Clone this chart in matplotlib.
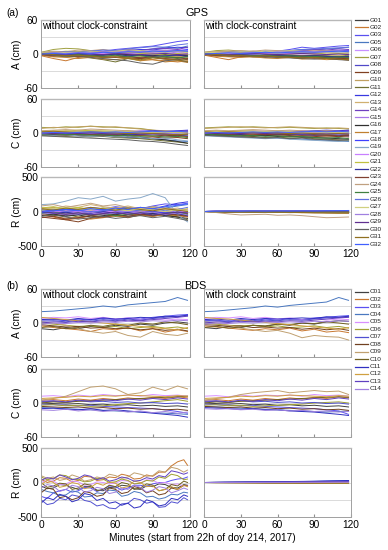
import matplotlib
matplotlib.use("Agg")
import matplotlib.pyplot as plt
from matplotlib.lines import Line2D

plt.rcParams['font.family'] = ['Liberation Sans', 'DejaVu Sans']

minutes = [0, 10, 20, 30, 40, 50, 60, 70, 80, 90, 100, 110, 118]
minutes_fine = [0, 5, 10, 15, 20, 25, 30, 35, 40, 45, 50, 55, 60, 65, 70, 75, 80, 85, 90, 95, 100, 105, 110, 115, 118]

gps_sats = ['G01','G02','G03','G05','G06','G07','G08','G09','G10','G11','G12','G13','G14','G15','G16',
            'G17','G18','G19','G20','G21','G22','G23','G24','G25','G26','G27','G28','G29','G30','G31','G32']
gps_colors = ['#404040','#c87830','#5a50f0','#4a78c0','#c890ff','#a0a040','#5048c8','#804020','#c0a060',
              '#707030','#3838e0','#d0b070','#7040c0','#a878e8','#303030','#c08030','#4040ff','#88a8c8',
              '#c880ff','#c0c040','#3030a0','#804030','#c0a080','#408040','#6070e0','#d0d080','#a080e0',
              '#603090','#606060','#907020','#4060ff']

bds_sats = ['C01','C02','C03','C04','C05','C06','C07','C08','C09','C10','C11','C12','C13','C14']
bds_colors = ['#404040','#c87830','#5a50f0','#4a78c0','#d890ff','#a0a030','#5050d0','#704020','#c0a070',
              '#706020','#3030c0','#d0a040','#6040c0','#a080e0']

gps_A_without = [
[0,1,-2,0,2,-1,0,-3,-2,-4,-5,-6,-4],[-3,-8,-12,-6,-4,-5,-2,-6,-8,-10,-12,-14,-12],[2,3,1,4,6,5,8,10,12,14,18,22,24],
[1,0,2,-1,0,3,2,5,7,9,12,10,14],[0,2,3,1,2,4,3,2,5,4,6,8,7],[3,8,10,9,6,4,-2,-8,-12,-6,-3,-5,-2],
[0,-1,1,0,2,1,3,4,2,5,3,6,4],[-2,-4,-3,-5,-4,-6,-5,-7,-8,-6,-9,-10,-8],[1,2,0,-2,-4,-3,-6,-8,-5,-3,-2,-4,-6],
[0,-3,-5,-4,-7,-10,-14,-8,-6,-4,-6,-8,-10],[0,1,2,1,3,2,4,6,8,7,10,12,11],[2,4,3,5,2,0,1,-2,-4,-6,-3,-2,0],
[0,2,1,3,5,4,6,8,6,9,10,8,12],[1,0,-1,1,2,0,-1,2,3,1,4,2,3],[-1,-2,0,-1,-3,-2,0,-1,-2,-3,-1,-2,-3],
[-2,-5,-6,-8,-6,-9,-10,-7,-12,-10,-14,-12,-15],[1,2,3,2,1,3,4,2,5,3,6,5,8],[0,-2,-1,-3,-2,0,2,1,3,5,4,6,4],
[0,1,0,-1,0,1,2,1,0,2,1,0,1],[2,3,5,4,6,3,2,4,1,0,-2,1,-1],[0,-1,-2,-1,0,-2,-1,-3,-2,-4,-3,-2,-4],
[-1,-3,-2,-4,-3,-5,-6,-4,-7,-5,-8,-6,-9],[3,5,4,7,6,8,5,3,2,4,6,5,3],[-1,0,-2,-1,-3,-4,-2,-5,-3,-6,-4,-7,-5],
[1,2,4,3,5,7,6,9,11,13,12,16,18],[2,1,3,2,4,3,5,7,6,4,3,5,2],[0,2,1,3,2,4,3,5,4,6,7,5,6],
[-1,0,-1,1,0,-1,1,0,-1,0,1,-1,0],[0,-2,-4,-3,-6,-8,-10,-12,-16,-18,-12,-10,-14],[1,-1,-3,-2,-4,-6,-5,-8,-10,-7,-9,-11,-13],
[0,1,0,2,1,3,2,4,3,5,4,6,5]]

gps_A_with = [
[0,-1,-2,-1,-3,-2,-4,-3,-5,-4,-6,-5,-7],[-2,-6,-10,-5,-3,-4,-2,-5,-6,-7,-8,-9,-8],[1,2,1,3,2,4,5,8,12,10,12,14,15],
[0,1,0,2,1,3,4,6,8,7,9,10,12],[2,3,4,3,5,4,6,5,4,6,5,7,6],[3,6,7,5,4,2,0,-2,-4,-2,-3,-4,-2],
[0,-1,0,1,0,2,1,3,2,4,3,5,4],[-2,-3,-4,-3,-5,-4,-6,-5,-7,-6,-8,-7,-9],[1,0,2,1,0,-1,-2,-1,-3,-2,-4,-3,-5],
[0,-2,-4,-3,-5,-6,-4,-5,-3,-4,-6,-5,-7],[0,1,2,1,3,2,4,3,5,4,6,5,7],[3,4,5,4,3,5,4,6,5,7,6,5,4],
[0,1,2,3,2,4,3,5,6,8,7,9,8],[1,0,1,2,1,0,1,2,3,2,3,4,3],[-1,-2,-1,-3,-2,-1,-2,-3,-4,-3,-4,-5,-4],
[-2,-4,-5,-6,-5,-7,-8,-6,-9,-8,-10,-9,-11],[1,2,3,2,3,4,3,4,5,4,6,5,6],[0,-1,-2,-1,-2,0,1,0,2,1,3,2,1],
[0,1,0,1,0,1,2,1,0,1,2,1,0],[2,3,4,3,5,3,2,3,1,2,0,1,0],[0,-1,-2,-1,-2,-3,-2,-3,-4,-3,-4,-5,-4],
[-1,-2,-3,-4,-3,-5,-4,-6,-5,-7,-6,-8,-7],[3,4,5,6,5,7,6,5,4,5,6,5,4],[-1,0,-1,-2,-3,-2,-4,-3,-5,-4,-6,-5,-6],
[1,2,3,4,3,5,4,6,8,9,10,11,12],[2,3,2,4,3,5,4,6,5,4,3,4,3],[0,1,2,1,3,2,4,3,5,4,5,6,5],
[-1,0,-1,0,1,0,-1,0,1,0,-1,0,-1],[0,-1,-3,-2,-4,-5,-6,-7,-8,-9,-8,-10,-11],[1,-1,-2,-3,-4,-3,-5,-6,-7,-6,-8,-9,-10],
[0,1,2,1,2,3,2,3,4,3,4,5,4]]

gps_C_without = [
[0,-1,-2,-1,-2,-3,-2,-3,-4,-3,-4,-5,-4],[-1,-2,-1,-3,-2,-4,-3,-5,-4,-6,-5,-7,-6],[1,2,1,3,2,1,2,3,2,4,3,2,3],
[-2,-3,-4,-5,-6,-5,-7,-8,-9,-10,-12,-14,-15],[2,1,3,2,4,3,2,3,4,3,2,3,4],[10,9,11,10,12,11,10,9,8,5,3,1,0],
[0,1,0,-1,0,1,0,-1,0,1,0,-1,0],[-3,-4,-5,-4,-6,-5,-7,-6,-8,-7,-9,-8,-10],[8,10,9,11,12,10,11,9,7,5,4,3,2],
[-4,-5,-6,-5,-7,-6,-8,-9,-10,-12,-14,-16,-18],[1,0,1,2,1,2,3,2,3,4,3,4,5],[2,3,4,3,5,4,3,4,2,3,1,2,1],
[0,-1,0,1,2,1,0,1,2,3,2,3,4],[1,2,1,0,1,2,1,0,1,2,1,0,1],[-2,-3,-2,-4,-3,-5,-4,-6,-8,-10,-12,-15,-18],
[2,1,3,2,1,0,2,1,0,-1,0,1,2],[0,1,2,1,0,-1,0,1,0,-1,-2,-1,-2],[-3,-4,-3,-5,-6,-5,-7,-6,-8,-10,-9,-12,-14],
[1,0,-1,0,1,0,-1,0,1,0,-1,0,1],[3,4,3,5,4,3,2,3,2,1,2,1,0],[-1,0,-1,-2,-1,-2,-1,-2,-3,-2,-3,-4,-3],
[0,-1,-2,-3,-2,-4,-3,-5,-4,-3,-5,-4,-6],[4,5,6,5,7,6,5,4,3,2,3,2,1],[-2,-1,-3,-2,-4,-3,-5,-4,-6,-5,-7,-6,-8],
[0,1,0,2,1,0,-1,0,-1,-2,-3,-2,-4],[1,2,3,2,3,4,3,2,1,2,1,0,-1],[-1,0,1,0,-1,0,1,0,-1,-2,-1,-2,-3],
[0,-1,0,-1,0,-1,-2,-1,-2,-1,-2,-3,-2],[-5,-6,-7,-8,-9,-10,-11,-12,-14,-15,-17,-20,-22],[2,3,2,1,2,1,0,-1,0,-1,-2,-3,-2],
[0,1,0,1,2,1,2,1,2,3,2,3,2]]

gps_C_with = [
[0,-1,-2,-1,-2,-3,-2,-3,-2,-3,-4,-3,-4],[-1,-2,-1,-2,-3,-2,-3,-4,-3,-4,-5,-4,-5],[1,2,1,2,3,2,1,2,3,2,3,4,3],
[-3,-4,-5,-6,-7,-8,-9,-10,-11,-12,-13,-14,-15],[2,3,2,3,4,3,2,3,4,3,2,3,4],[9,10,11,10,11,10,9,10,9,8,9,8,7],
[0,1,0,1,0,1,0,-1,0,1,0,-1,0],[-3,-4,-3,-4,-5,-4,-5,-6,-5,-6,-7,-6,-7],[8,9,10,11,10,9,10,11,10,9,8,9,8],
[-4,-5,-6,-7,-6,-8,-7,-9,-8,-10,-11,-12,-13],[1,0,1,2,1,2,3,2,3,4,5,4,5],[2,3,2,3,4,3,4,3,2,3,2,1,2],
[0,1,0,1,2,1,2,3,2,3,4,3,4],[1,0,1,2,1,0,1,2,1,0,1,2,1],[-2,-3,-4,-3,-5,-4,-6,-5,-7,-8,-9,-10,-11],
[2,1,2,3,2,1,2,1,0,1,2,1,2],[0,1,0,-1,0,1,0,-1,0,-1,-2,-1,-2],[-5,-6,-7,-8,-9,-10,-9,-11,-12,-13,-14,-15,-14],
[1,0,1,0,1,0,1,0,1,0,1,0,1],[3,4,3,4,3,2,3,2,1,2,1,0,1],[-1,0,-1,-2,-1,-2,-3,-2,-3,-4,-3,-4,-5],
[0,-1,-2,-1,-2,-3,-2,-3,-4,-3,-4,-5,-4],[4,5,4,5,6,5,4,5,4,3,4,3,2],[-2,-3,-4,-5,-4,-6,-5,-7,-6,-8,-9,-8,-10],
[0,1,0,1,0,-1,0,-1,-2,-1,-2,-3,-2],[1,2,1,2,3,2,3,2,1,2,1,0,1],[-1,0,1,0,-1,0,1,0,-1,0,-1,-2,-1],
[0,-1,0,-1,0,-1,0,-1,-2,-1,-2,-1,-2],[-4,-5,-6,-7,-8,-9,-8,-10,-9,-11,-12,-13,-12],[2,1,2,1,0,1,0,-1,0,-1,-2,-1,-2],
[0,1,0,1,2,1,2,1,2,3,2,3,2]]

gps_R_without = [
[-20,-40,-60,-30,-50,-20,-40,-10,-30,0,-20,-50,-60],[-50,-80,-120,-100,-60,-80,-40,-20,-60,-30,-50,-80,-40],
[0,20,50,30,60,40,70,50,40,80,110,100,120],[0,30,10,40,20,50,30,60,40,70,50,80,100],
[10,-20,0,30,10,-10,20,0,30,10,40,20,30],[30,50,20,40,10,30,0,20,-10,10,-20,0,-30],
[-10,10,-20,0,-30,-10,-40,-20,-10,-30,0,-20,-40],[-80,-100,-120,-150,-100,-80,-60,-90,-50,-70,-40,-60,-30],
[40,60,30,50,20,40,60,30,50,20,40,10,-20],[-30,-60,-40,-80,-60,-40,-70,-50,-30,-60,-40,-80,-120],
[20,0,30,10,40,20,50,30,60,40,80,120,140],[60,40,80,60,100,70,50,80,40,60,30,50,20],
[0,20,-10,10,-20,0,20,-10,10,-20,0,20,-10],[-20,0,-30,-10,-40,-20,0,-30,-10,20,0,30,10],
[-60,-40,-70,-50,-80,-60,-40,-70,-50,-30,-60,-80,-100],[-40,-70,-100,-80,-110,-90,-60,-80,-50,-70,-40,-60,-80],
[30,10,40,20,0,30,10,-10,20,0,-20,10,-10],[100,110,150,200,180,220,150,180,200,260,200,-50,-150],
[0,-10,10,0,20,10,-10,0,10,20,0,10,-10],[50,70,40,60,30,50,20,40,10,30,0,20,40],
[-10,-30,-10,-40,-20,0,-30,-10,-40,-20,-50,-30,-60],[-90,-70,-110,-90,-60,-80,-50,-70,-40,-60,-30,-50,-70],
[80,100,60,90,120,80,100,60,40,70,50,30,10],[-30,-10,-40,-20,-50,-30,-60,-40,-20,-50,-30,-10,-40],
[10,30,0,20,-10,10,30,0,20,40,10,30,60],[20,40,60,40,20,50,30,10,40,20,0,30,10],
[-40,-20,-50,-30,-10,-40,-20,0,-30,-10,-40,-20,-50],[0,-20,-40,-20,-50,-30,-10,-40,-20,-50,-30,-10,-20],
[-70,-50,-80,-110,-90,-70,-100,-80,-60,-90,-70,-100,-130],[40,20,50,30,60,40,20,50,30,10,40,20,0],
[-10,10,30,10,40,20,50,30,60,40,70,90,110]]

gps_R_with = [
[0,2,-3,1,-2,3,0,-4,2,-1,3,-2,1],[0,-5,-10,-8,-12,-10,-15,-12,-18,-15,-20,-22,-18],[0,3,5,2,6,4,8,5,9,7,10,8,12],
[0,-2,1,-3,0,-4,-1,-5,-2,-6,-3,-7,-5],[0,4,2,6,3,7,5,9,6,10,8,12,10],[0,-3,-6,-4,-8,-5,-9,-7,-11,-8,-12,-10,-13],
[0,2,4,3,5,4,6,5,7,6,8,7,9],[0,-4,-8,-12,-10,-14,-12,-16,-14,-18,-16,-20,-22],[0,1,-1,2,0,3,1,-2,2,-1,3,0,2],
[0,-3,-5,-3,-6,-4,-7,-5,-8,-6,-9,-7,-10],[0,3,6,4,7,5,8,6,10,8,11,9,12],[0,-2,-4,-6,-8,-10,-12,-14,-16,-18,-20,-22,-24],
[0,2,0,3,1,4,2,5,3,6,4,7,5],[0,-1,1,-2,0,-3,-1,-4,-2,-5,-3,-6,-4],[0,-2,-1,-3,-2,-4,-3,-5,-4,-6,-5,-7,-6],
[0,-4,-7,-10,-8,-12,-10,-14,-12,-16,-14,-18,-16],[0,2,4,3,6,5,7,6,9,8,10,9,11],[0,-3,-2,-5,-4,-7,-6,-9,-8,-11,-10,-13,-12],
[0,3,1,4,2,5,3,6,4,7,5,8,6],[0,1,3,1,4,2,5,3,6,4,7,5,8],[0,2,1,3,2,4,3,5,4,6,5,7,6],
[0,-5,-8,-6,-10,-8,-12,-10,-14,-12,-16,-14,-18],[0,-15,-35,-50,-45,-40,-55,-50,-60,-75,-90,-85,-80],[0,-2,-4,-3,-5,-4,-6,-5,-7,-6,-8,-7,-9],
[0,4,6,5,8,6,9,7,10,8,12,10,13],[0,-1,-3,-2,-4,-3,-5,-4,-6,-5,-7,-6,-8],[0,2,5,3,6,4,8,6,10,8,12,14,12],
[0,1,2,1,3,2,4,3,5,4,6,5,7],[0,-1,-2,-1,-3,-2,-4,-3,-5,-4,-6,-5,-7],[0,-3,-6,-5,-8,-7,-10,-12,-15,-18,-20,-22,-20],
[0,3,5,4,7,5,8,6,9,7,11,13,15]]

bds_A_without = [
[-10,-12,-8,-10,-6,-8,-4,-6,-2,-4,0,2,0],[-5,-8,-10,-12,-15,-10,-12,-8,-14,-10,-16,-12,-15],[5,6,4,7,5,8,6,9,7,10,12,14,15],
[20,21,23,25,27,30,28,32,34,36,38,45,40],[8,10,9,11,8,10,7,9,6,8,5,7,6],[0,-2,-4,-6,-5,-8,-6,-10,-8,-6,-9,-7,-10],
[3,4,2,5,3,6,4,7,5,8,10,12,13],[-3,-5,-7,-6,-9,-8,-10,-9,-12,-10,-13,-11,-14],[2,0,-4,-10,-15,-18,-15,-22,-25,-15,-20,-22,-18],
[-8,-6,-10,-8,-4,-6,-2,-4,0,-2,2,0,-3],[6,7,5,8,6,9,7,8,10,9,12,11,14],[10,8,6,4,2,0,-2,-4,-6,-8,-10,-12,-8],
[0,2,1,3,2,4,3,5,4,6,8,10,12],[-2,0,-1,1,0,2,1,3,2,4,3,5,4]]

bds_A_with = [
[-8,-10,-6,-8,-4,-6,-2,-4,0,-2,2,4,3],[-5,-7,-9,-11,-13,-10,-12,-9,-14,-11,-16,-14,-17],[4,5,3,6,4,7,5,8,6,9,10,12,13],
[20,21,23,25,27,30,28,31,33,35,37,45,40],[8,10,9,11,8,10,7,9,6,8,5,7,6],[0,-2,-4,-5,-4,-7,-5,-8,-7,-5,-8,-6,-9],
[3,4,2,5,3,5,4,6,5,7,9,10,11],[-3,-4,-6,-5,-8,-7,-9,-8,-11,-9,-12,-10,-13],[2,0,-4,-9,-12,-15,-13,-18,-26,-22,-24,-25,-30],
[-8,-6,-9,-7,-4,-5,-2,-3,0,-1,2,0,-2],[6,7,5,8,6,8,7,8,9,8,11,10,12],[10,8,7,5,3,1,-1,-3,-5,-7,-9,-11,-8],
[0,2,1,3,2,3,2,4,3,5,7,9,10],[-2,0,-1,1,0,2,1,2,1,3,2,4,3]]

bds_C_without = [
[0,-1,-2,-1,-3,-2,-4,-3,-5,-4,-6,-5,-7],[5,6,4,7,5,8,6,9,7,10,8,11,9],[-2,-3,-4,-5,-4,-6,-7,-8,-9,-10,-12,-15,-18],
[-8,-9,-10,-11,-12,-13,-14,-15,-16,-17,-18,-19,-20],[12,13,11,14,12,15,13,14,12,15,13,14,12],[-4,-3,-5,-4,-6,-5,-3,-1,0,2,4,6,3],
[2,3,1,4,2,3,1,2,0,1,-1,0,-2],[-6,-7,-8,-7,-9,-8,-10,-9,-11,-10,-12,-11,-13],[5,8,12,20,28,30,25,15,18,28,22,30,25],
[0,2,1,3,4,5,6,7,8,9,10,11,12],[-10,-9,-11,-12,-10,-13,-12,-14,-16,-18,-20,-22,-25],[8,9,10,12,11,13,12,14,13,12,11,13,12],
[3,4,2,5,3,6,4,7,5,8,6,9,7],[-12,-13,-11,-14,-12,-15,-13,-16,-14,-17,-15,-18,-16]]

bds_C_with = [
[0,-1,-2,-1,-3,-2,-4,-3,-5,-4,-6,-5,-7],[5,6,4,7,5,8,6,9,7,10,8,11,9],[-2,-3,-4,-5,-4,-6,-7,-8,-9,-10,-12,-14,-20],
[-6,-7,-8,-9,-10,-11,-12,-13,-14,-15,-16,-15,-14],[12,13,11,14,12,14,13,14,12,15,13,14,12],[-4,-3,-5,-4,-6,-5,-4,-3,-2,0,1,2,0],
[2,3,1,4,2,3,1,2,0,1,-1,0,-2],[-6,-7,-8,-7,-9,-8,-10,-9,-11,-10,-12,-11,-13],[5,8,10,15,18,20,22,18,20,22,20,21,15],
[0,2,1,3,4,5,6,7,8,9,10,11,10],[-8,-9,-10,-11,-10,-12,-12,-14,-15,-16,-18,-20,-22],[8,9,10,12,11,13,12,14,13,12,11,13,12],
[3,4,2,5,3,6,4,7,5,8,6,9,7],[-10,-11,-10,-12,-11,-13,-12,-14,-13,-15,-14,-16,-15]]

bds_R_without = [
[-50,-90,-80,-30,-40,-70,-100,-60,-60,-110,-120,-70,-80,-40,-50,-90,-100,-50,-60,-20,-30,-70,-80,-30,-40],
[50,0,20,70,60,10,30,90,80,30,40,80,70,120,100,50,60,110,90,150,150,240,300,330,250],
[-200,-230,-150,-120,-100,-140,-120,-70,-80,-130,-100,-50,-60,-110,-80,-40,-40,-60,-20,0,0,30,50,60,80],
[-100,-130,-150,-190,-180,-120,-140,-210,-200,-150,-160,-110,-120,-200,-180,-130,-150,-210,-200,-240,-220,-170,-180,-140,-150],
[0,30,20,-30,-20,20,10,-40,-30,10,0,-20,-10,30,20,-20,-10,40,30,-10,0,-30,-20,-50,-40],
[80,40,60,110,100,50,40,10,20,60,50,0,10,50,30,-20,-10,30,20,80,60,120,100,40,50],
[-250,-320,-300,-230,-250,-180,-200,-260,-280,-340,-320,-370,-380,-310,-300,-230,-250,-300,-280,-360,-350,-280,-300,-220,-250],
[-150,-80,-100,-220,-200,-250,-220,-130,-150,-200,-180,-80,-100,-160,-140,-60,-80,-150,-120,-180,-160,-80,-100,-40,-50],
[100,60,80,30,50,110,80,20,40,80,60,120,100,60,80,140,120,90,100,170,150,220,200,150,180],
[0,-70,-50,-10,-20,-100,-80,-20,-40,-120,-100,-40,-60,0,-20,-100,-80,-20,-40,-120,-100,-30,-50,20,0],
[-300,-220,-250,-170,-200,-280,-250,-160,-180,-260,-230,-300,-280,-330,-300,-370,-350,-250,-280,-340,-320,-230,-250,-180,-200],
[-30,30,0,-70,-50,0,-20,-90,-70,-10,-40,10,-10,-80,-60,20,0,-60,-50,-120,-100,-60,-100,-40,-60],
[30,70,50,110,80,40,60,110,90,40,70,20,40,80,60,20,30,70,50,100,80,170,150,120,140],
[-80,-30,-50,-130,-100,-40,-60,-140,-120,-70,-90,-160,-140,-80,-100,-40,-70,-140,-110,-60,-80,-150,-120,-80,-100]]

bds_R_with = [
[0,1,2,3,4,5,6,7,8,9,10,11,12],[0,-1,-2,-3,-4,-5,-6,-7,-8,-9,-10,-11,-12],[0,1,3,4,6,7,9,10,12,14,16,18,20],
[0,2,4,5,7,8,10,12,14,17,20,24,28],[0,0,1,1,2,2,3,3,4,4,5,5,6],[0,-1,-1,-2,-2,-3,-3,-4,-4,-5,-5,-6,-6],
[0,2,3,5,6,8,9,11,13,15,18,21,25],[0,-1,-2,-2,-3,-4,-5,-5,-6,-7,-8,-8,-9],[0,1,1,2,2,3,3,4,4,5,5,6,6],
[0,-2,-3,-4,-5,-6,-7,-8,-10,-11,-12,-14,-15],[0,2,4,6,8,10,12,14,16,18,21,24,28],[0,-1,-1,-2,-3,-3,-4,-5,-5,-6,-7,-7,-8],
[0,1,2,3,4,5,6,7,8,9,11,13,15],[0,0,1,1,1,2,2,2,3,3,3,4,4]]

W, H = 388, 550
fig = plt.figure(figsize=(W / 100, H / 100), dpi=100)

col_x = [(41, 190), (204, 351)]
rows = [(20, 88), (99, 167), (177, 246), (289, 357), (369, 437), (448, 517)]

def make_ax(col, row):
    x0, x1 = col_x[col]
    y0, y1 = rows[row]
    return fig.add_axes([x0 / W, 1 - y1 / H, (x1 - x0) / W, (y1 - y0) / H])

panels = [
    (0, 'A', gps_A_without, gps_A_with, gps_colors, 60),
    (1, 'C', gps_C_without, gps_C_with, gps_colors, 60),
    (2, 'R', gps_R_without, gps_R_with, gps_colors, 500),
    (3, 'A', bds_A_without, bds_A_with, bds_colors, 60),
    (4, 'C', bds_C_without, bds_C_with, bds_colors, 60),
    (5, 'R', bds_R_without, bds_R_with, bds_colors, 500),
]

fs = 7.3
for row, comp, d_wo, d_w, cols, lim in panels:
    for col, data in enumerate([d_wo, d_w]):
        ax = make_ax(col, row)
        for series, c in zip(data, cols):
            xs = minutes if len(series) == len(minutes) else minutes_fine
            ax.plot(xs, series, color=c, lw=0.7)
        ax.set_xlim(0, 120)
        ax.set_ylim(-lim, lim)
        ax.set_xticks([0, 30, 60, 90, 120])
        ax.set_yticks([-lim, -lim / 2, 0, lim / 2, lim])
        ax.grid(axis='y', color='#d4d4d4', lw=0.6)
        ax.set_axisbelow(True)
        for s in ax.spines.values():
            s.set_color('#a0a0a0')
            s.set_linewidth(0.7)
        ax.spines['top'].set_color('#b8b8b8')
        ax.spines['top'].set_linewidth(1.0)
        ax.tick_params(axis='x', direction='in', length=2.5, color='#909090', labelsize=fs, pad=2)
        ax.tick_params(axis='y', direction='out', length=0, labelsize=fs, pad=2)
        if col == 0:
            ax.set_yticklabels([str(-lim), '', '0', '', str(lim)])
            ax.set_ylabel(f'{comp} (cm)', fontsize=fs, labelpad=1 if lim == 60 else -3)
        else:
            ax.set_yticklabels([])
        if row not in (2, 5):
            ax.set_xticklabels([])
        if comp == 'A':
            if row == 0:
                txt = 'without clock-constraint' if col == 0 else 'with clock-constraint'
            else:
                txt = 'without clock constraint' if col == 0 else 'with clock constraint'
            ax.text(0.005, 0.985, txt, transform=ax.transAxes, fontsize=fs, va='top', ha='left')

fig.text(6 / W, 1 - 13 / H, '(a)', fontsize=fs, va='center', ha='left')
fig.text(197 / W, 1 - 13 / H, 'GPS', fontsize=fs + 0.5, va='center', ha='center')
fig.text(6 / W, 1 - 286 / H, '(b)', fontsize=fs, va='center', ha='left')
fig.text(195 / W, 1 - 286 / H, 'BDS', fontsize=fs + 0.5, va='center', ha='center')
fig.text(202 / W, 1 - 538 / H, 'Minutes (start from 22h of doy 214, 2017)', fontsize=fs,
         va='center', ha='center')

def legend(labels, colors, y_first, step):
    for i, (lab, c) in enumerate(zip(labels, colors)):
        y = 1 - (y_first + i * step) / H
        fig.add_artist(Line2D([355 / W, 368 / W], [y, y], color=c, lw=0.9))
        fig.text(369.5 / W, y, lab, fontsize=4.6, va='center', ha='left', color='#202020')

legend(gps_sats, gps_colors, 20, 7.47)
legend(bds_sats, bds_colors, 291.7, 7.48)

fig.savefig('out.png', dpi=100)
